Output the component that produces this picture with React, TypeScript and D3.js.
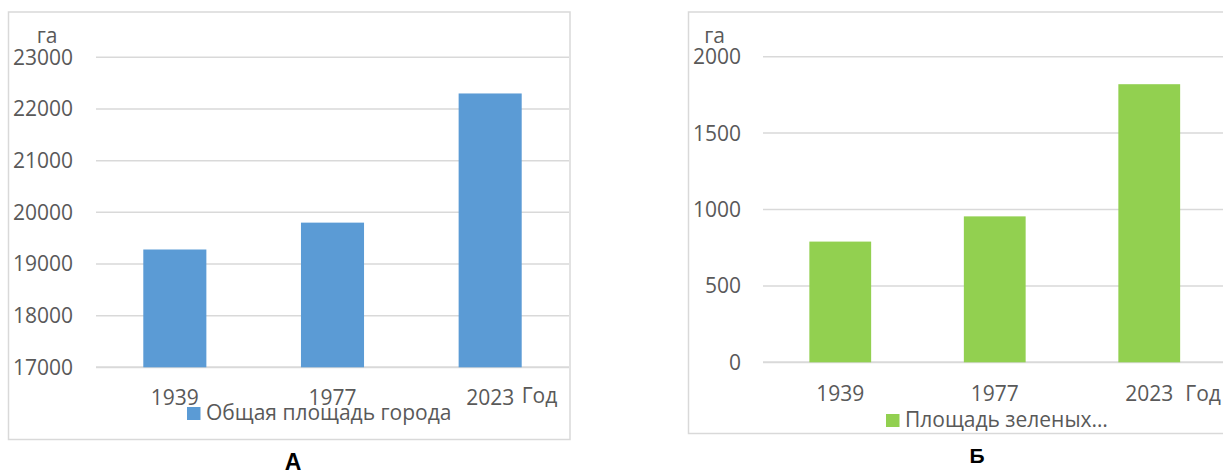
import React from "react";
import * as d3 from "d3";

const categories = ["1939", "1977", "2023"];
const totalArea = [19280, 19800, 22300];
const greenArea = [790, 955, 1820];
const ticksA = [17000, 18000, 19000, 20000, 21000, 22000, 23000];
const ticksB = [0, 500, 1000, 1500, 2000];
const legendA = "Общая площадь города";
const legendB = "Площадь зеленых…";
const unitLabel = "га";
const xAxisLabel = "Год";

const FONT = "'Open Sans', sans-serif";
const TEXT = "#595959";
const GRID = "#d9d9d9";

type PanelProps = {
  frame: { x0: number; y0: number; x1: number; y1: number };
  plot: { x0: number; x1: number; yTop: number; yBottom: number };
  domain: [number, number];
  ticks: number[];
  values: number[];
  color: string;
  unitX: number;
  tickRight: number;
  xLabelBaseline: number;
  godGap: number;
  godDy: number;
  legend: { x: number; y: number; text: string };
  letter: { x: number; y: number; text: string; size: number };
  clipRight?: number;
};

function Panel(p: PanelProps) {
  const x = d3
    .scaleBand<string>()
    .domain(categories)
    .range([p.plot.x0, p.plot.x1])
    .padding(0);
  const y = d3
    .scaleLinear()
    .domain(p.domain)
    .range([p.plot.yBottom, p.plot.yTop]);
  const bw = x.bandwidth() * 0.4;
  const gridRight = p.clipRight ?? p.plot.x1;
  const lastCenter = (x(categories[2]) as number) + x.bandwidth() / 2;
  return (
    <g>
      <rect
        x={p.frame.x0}
        y={p.frame.y0}
        width={p.frame.x1 - p.frame.x0}
        height={p.frame.y1 - p.frame.y0}
        fill="#fff"
        stroke={GRID}
        strokeWidth={1.5}
      />
      {p.ticks.map((t) => (
        <g key={t}>
          <line
            x1={p.plot.x0}
            x2={gridRight}
            y1={y(t)}
            y2={y(t)}
            stroke={GRID}
            strokeWidth={t === p.domain[0] ? 2 : 1.5}
          />
          <text
            x={p.tickRight}
            y={y(t) + 7.5}
            textAnchor="end"
            fontFamily={FONT}
            fontSize={21}
            fill={TEXT}
          >
            {t}
          </text>
        </g>
      ))}
      <text
        x={p.unitX}
        y={42.5}
        textAnchor="middle"
        fontFamily={FONT}
        fontSize={21}
        fill={TEXT}
      >
        {unitLabel}
      </text>
      {categories.map((c, i) => {
        const cx = (x(c) as number) + x.bandwidth() / 2;
        return (
          <rect
            key={c}
            x={cx - bw / 2}
            y={y(p.values[i])}
            width={bw}
            height={y(p.domain[0]) - y(p.values[i])}
            fill={p.color}
          />
        );
      })}
      {categories.map((c) => {
        const cx = (x(c) as number) + x.bandwidth() / 2;
        return (
          <text
            key={c}
            x={cx}
            y={p.xLabelBaseline}
            textAnchor="middle"
            fontFamily={FONT}
            fontSize={21}
            fill={TEXT}
          >
            {c}
          </text>
        );
      })}
      <text
        x={lastCenter + 23.5 + p.godGap}
        y={p.xLabelBaseline + p.godDy}
        textAnchor="start"
        fontFamily={FONT}
        fontSize={21}
        fill={TEXT}
      >
        {xAxisLabel}
      </text>
      <rect x={p.legend.x} y={p.legend.y - 13} width={13.5} height={13} fill={p.color} />
      <text
        x={p.legend.x + 19}
        y={p.legend.y}
        fontFamily={FONT}
        fontSize={21}
        fill={TEXT}
      >
        {p.legend.text}
      </text>
      <text
        x={p.letter.x}
        y={p.letter.y}
        textAnchor="middle"
        fontFamily="'Liberation Sans', Arial, sans-serif"
        fontWeight="bold"
        fontSize={p.letter.size}
        fill="#000"
      >
        {p.letter.text}
      </text>
    </g>
  );
}

export default function App() {
  return (
    <svg
      width={1223}
      height={470}
      style={{ position: "absolute", left: 0, top: 0, display: "block", background: "#fff" }}
    >
      <Panel
        frame={{ x0: 8.5, y0: 12, x1: 570, y1: 439.5 }}
        plot={{ x0: 96, x1: 569, yTop: 57.3, yBottom: 367.3 }}
        domain={[17000, 23000]}
        ticks={ticksA}
        values={totalArea}
        color="#5B9BD5"
        unitX={47}
        tickRight={73}
        xLabelBaseline={405}
        godGap={8}
        godDy={-2.5}
        legend={{ x: 187, y: 420, text: legendA }}
        letter={{ x: 293, y: 469.5, text: "А", size: 23 }}
      />
      <Panel
        frame={{ x0: 688.5, y0: 12, x1: 1240, y1: 433.5 }}
        plot={{ x0: 763, x1: 1226.5, yTop: 56.7, yBottom: 362.3 }}
        domain={[0, 2000]}
        ticks={ticksB}
        values={greenArea}
        color="#92D050"
        unitX={714.5}
        tickRight={741}
        xLabelBaseline={400.5}
        godGap={12.5}
        godDy={0}
        legend={{ x: 886, y: 427, text: legendB }}
        letter={{ x: 977, y: 463, text: "Б", size: 21 }}
        clipRight={1223}
      />
    </svg>
  );
}
